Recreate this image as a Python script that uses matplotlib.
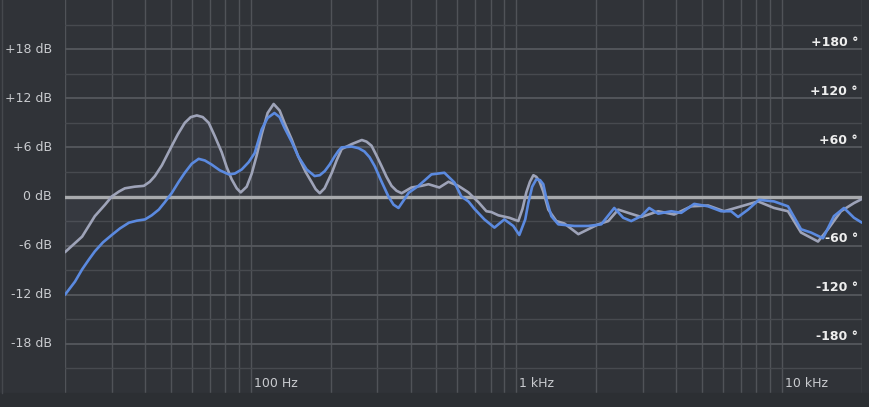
import numpy as np
import matplotlib
matplotlib.use("Agg")
import matplotlib.pyplot as plt
from matplotlib.transforms import blended_transform_factory, offset_copy

# ---- data ----
gray_freq = [20, 23.2, 25.9, 28.3, 30, 31.9, 33.6, 36.6, 39.6, 41.7, 43.6, 46.3, 50.5, 53.2,
             56.5, 59.5, 62.7, 66, 69.5, 73.2, 77.8, 81.2, 84.8, 88.6, 91.7, 96.6, 100.9,
             105.3, 110, 115.8, 122, 128.5, 134, 142.6, 151, 161, 170, 175.6, 182, 189.7,
             202, 210.5, 220, 240, 262, 273, 285, 297.6, 311, 324.6, 339, 353.9, 370, 403,
             439, 467, 513, 555, 605, 660, 720, 771, 805, 856, 941, 1017, 1055, 1090, 1125,
             1159, 1189, 1220, 1263, 1319, 1414, 1516, 1711, 1865, 2034, 2218, 2418, 2637,
             2951, 3419, 3926, 4550, 5270, 6053, 7014, 8124, 9331, 10530, 11790, 13660,
             14890, 16670, 18660, 20000]
gray_db = [-6.8, -4.9, -2.4, -1.0, 0.0, 0.6, 1.0, 1.2, 1.3, 1.8, 2.5, 3.8, 6.2, 7.6,
           9.0, 9.7, 9.9, 9.7, 9.0, 7.4, 5.4, 3.6, 2.1, 1.0, 0.5, 1.2, 2.8,
           5.0, 7.6, 10.2, 11.3, 10.5, 9.0, 7.0, 4.9, 3.0, 1.7, 0.9, 0.4, 1.0,
           2.9, 4.4, 5.8, 6.4, 6.9, 6.7, 6.2, 5.0, 3.7, 2.4, 1.3, 0.7, 0.4, 1.1,
           1.3, 1.5, 1.1, 1.8, 1.3, 0.5, -0.7, -1.8, -1.9, -2.3, -2.6, -3.0, -1.5, 0.5, 1.8,
           2.6, 2.4, 1.9, 0.6, -1.6, -3.0, -3.3, -4.6, -4.0, -3.4, -3.0, -1.6, -2.0,
           -2.5, -1.8, -2.2, -1.2, -1.1, -1.8, -1.2, -0.6, -1.4, -1.8, -4.4, -5.5,
           -4.0, -1.8, -0.8, -0.3]

blue_freq = [20, 21.8, 23.2, 24.6, 25.9, 27.8, 30, 32.2, 34.8, 37.3, 40, 42.4, 45.1, 47.5,
             50.5, 53.6, 56.5, 60, 63.7, 67.2, 71.3, 76.5, 82.7, 87.1, 92.5, 98.3, 103.5,
             110, 115.8, 122.8, 128.5, 134, 142.6, 151, 162.4, 174, 182, 190, 198.2, 207,
             214.2, 220, 240, 254.7, 268, 280.2, 293, 311, 330, 344.9, 360, 376, 393, 428,
             479, 536, 585, 621, 660, 695, 758, 827, 901, 974, 1026, 1080, 1109, 1147, 1189,
             1228, 1263, 1302, 1354, 1438, 1652, 1865, 2087, 2336, 2525, 2706, 2951, 3162,
             3419, 3825, 4172, 4670, 5270, 5897, 6432, 6833, 7450, 8190, 9331, 10530,
             11790, 12850, 14260, 15680, 17110, 18660, 20000]
blue_db = [-12.0, -10.4, -8.9, -7.7, -6.7, -5.6, -4.7, -3.9, -3.2, -2.95, -2.8, -2.3, -1.6, -0.7,
           0.45, 1.8, 2.9, 4.0, 4.6, 4.4, 3.9, 3.2, 2.7, 2.8, 3.3, 4.2, 5.3,
           8.2, 9.6, 10.2, 9.7, 8.4, 6.7, 4.9, 3.3, 2.5, 2.6, 3.1, 3.9, 4.9,
           5.6, 6.0, 6.1, 5.9, 5.5, 4.8, 3.7, 1.8, 0.0, -1.0, -1.4, -0.5, 0.45, 1.3,
           2.7, 2.9, 1.7, 0.0, -0.6, -1.5, -2.8, -3.8, -2.8, -3.6, -4.7, -2.8, -0.8, 1.2, 2.1,
           2.0, 1.5, -0.5, -2.4, -3.4, -3.6, -3.6, -3.4, -1.4, -2.6, -3.0, -2.4, -1.4,
           -2.1, -1.8, -2.0, -0.9, -1.2, -1.8, -1.8, -2.5, -1.6, -0.4, -0.6, -1.2,
           -4.0, -4.4, -5.1, -2.4, -1.4, -2.6, -3.2]

db_ticks = [18, 12, 6, 0, -6, -12, -18]
db_labels = ["+18 dB", "+12 dB", "+6 dB", "0 dB", "-6 dB", "-12 dB", "-18 dB"]
phase_pos = [18, 12, 6, -6, -12, -18]
phase_labels = ["+180 °", "+120 °", "+60 °", "-60 °", "-120 °", "-180 °"]
freq_ticks = [100, 1000, 10000]
freq_labels = ["100 Hz", "1 kHz", "10 kHz"]

BG = "#303338"
FIG_BG = "#2c2f33"

fig = plt.figure(figsize=(8.7, 4.07), dpi=100)
fig.patch.set_facecolor(BG)
W, H = 870, 407
ax = fig.add_axes([65 / W, (H - 393) / H, 797 / W, 393 / H])
ax.set_facecolor(BG)
ax.set_xscale("log")
ax.set_xlim(20, 20000)
ax.set_ylim(-24, 24)

# bottom strip
fig.patches.append(plt.Rectangle((0, 0), 1, (H - 393) / H, transform=fig.transFigure,
                                 color=FIG_BG, zorder=0))
# left border line
fig.add_artist(plt.Line2D([2.5 / W, 2.5 / W], [(H - 393) / H, 1], transform=fig.transFigure,
                          color="#45484d", lw=1))

# vertical grid lines
for dec in [10, 100, 1000, 10000]:
    for m in range(1, 10):
        f = dec * m
        if 20 <= f <= 20000:
            ax.axvline(f, color="#505358", lw=1.0, zorder=1)
# horizontal grid lines
for v in range(-21, 24, 3):
    if v == 0:
        continue
    if v % 6 == 0:
        ax.axhline(v, color="#55585d", lw=1.3, zorder=1)
    else:
        ax.axhline(v, color="#474a4f", lw=1.0, zorder=1)
ax.axhline(0, color="#a8aaad", lw=2.4, zorder=3)

# curves
ax.fill_between(gray_freq, gray_db, 0, color="#8a90b0", alpha=0.07, lw=0, zorder=2)
ax.plot(gray_freq, gray_db, color="#9ea3b8", lw=1.9, zorder=4,
        solid_capstyle="round", solid_joinstyle="round")
ax.plot(blue_freq, blue_db, color="#5b8ae0", lw=1.9, zorder=5,
        solid_capstyle="round", solid_joinstyle="round")

for s in ax.spines.values():
    s.set_visible(False)
ax.set_xticks([])
ax.set_yticks([])

# left dB labels
tr_left = blended_transform_factory(fig.transFigure, ax.transData)
for v, lab in zip(db_ticks, db_labels):
    ax.text(52 / W, v, lab, transform=tr_left, ha="right", va="center",
            color="#c9cbcf", fontsize=9)

# right phase labels
tr_right = offset_copy(blended_transform_factory(ax.transAxes, ax.transData), fig=fig,
                       x=0, y=7, units="dots")
for v, lab in zip(phase_pos, phase_labels):
    ax.text(0.995, v, lab, transform=tr_right, ha="right", va="center",
            color="#eeeeee", fontsize=9, fontweight="bold")

# frequency labels
tr_x = offset_copy(ax.transData, fig=fig, x=3, y=0, units="dots")
for f, lab in zip(freq_ticks, freq_labels):
    ax.text(f, -22.8, lab, transform=tr_x, ha="left", va="center",
            color="#c9cbcf", fontsize=9)

fig.savefig("out.png", dpi=100, facecolor=fig.get_facecolor())
